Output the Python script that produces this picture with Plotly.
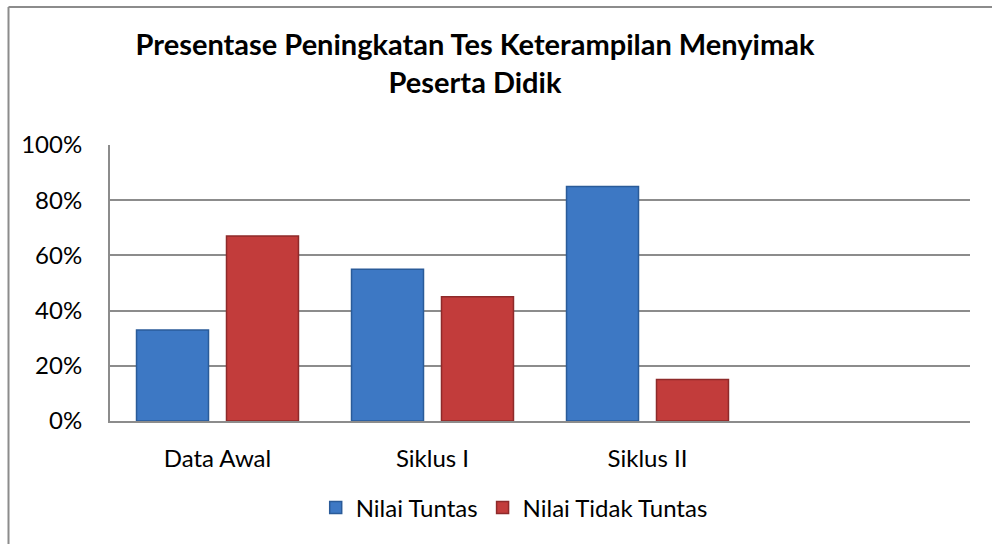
import plotly.graph_objects as go

categories = ["Data Awal", "Siklus I", "Siklus II", ""]
tuntas = [0.33, 0.55, 0.85, None]
tidak_tuntas = [0.67, 0.45, 0.15, None]
y_ticks = [0, 0.2, 0.4, 0.6, 0.8, 1.0]
y_labels = ["0%", "20%", "40%", "60%", "80%", "100%"]

FONT = "Lato"
x_idx = list(range(len(categories)))

fig = go.Figure()
fig.add_trace(go.Bar(
    x=x_idx, y=tuntas, name="Nilai Tuntas",
    marker=dict(color="#3D78C4", line=dict(color="#2A5B99", width=1.5)),
))
fig.add_trace(go.Bar(
    x=x_idx, y=tidak_tuntas, name="Nilai Tidak Tuntas",
    marker=dict(color="#C23C3B", line=dict(color="#8E2A2A", width=1.5)),
))

fig.update_layout(
    width=992, height=544,
    margin=dict(l=110, r=22, t=145, b=123),
    paper_bgcolor="white", plot_bgcolor="white",
    barmode="group", bargap=0.163, bargroupgap=0.2,
    font=dict(family=FONT, size=24, color="#000000"),
    title=dict(
        text="<b>Presentase Peningkatan Tes Keterampilan Menyimak<br>Peserta Didik</b>",
        x=475 / 992, xanchor="center", xref="container",
        y=1 - 55 / 544, yanchor="top", yref="container",
        font=dict(family=FONT, size=29, color="#000000"),
    ),
    legend=dict(
        orientation="h", x=0.47, xanchor="center", y=-0.315, yanchor="middle",
        font=dict(family=FONT, size=24), itemwidth=30, traceorder="normal",
    ),
    showlegend=True,
)
fig.update_xaxes(
    range=[-0.5, 3.5], tickvals=x_idx, ticktext=categories,
    showline=True, linecolor="#8C8C8C", linewidth=2,
    showgrid=False, ticks="", ticklabelstandoff=15, zeroline=False,
)
fig.update_yaxes(
    range=[0, 1.0], tickvals=y_ticks, ticktext=y_labels,
    showline=True, linecolor="#8C8C8C", linewidth=2,
    showgrid=True, gridcolor="#8C8C8C", gridwidth=2,
    ticks="", ticklabelstandoff=21, zeroline=False,
)
# outer chart border (top and left visible)
fig.add_shape(type="line", xref="paper", yref="paper",
              x0=(8.5 - 110) / 860, x1=(995 - 110) / 860,
              y0=(421 - 7) / 276, y1=(421 - 7) / 276,
              line=dict(color="#8C8C8C", width=2))
fig.add_shape(type="line", xref="paper", yref="paper",
              x0=(8.5 - 110) / 860, x1=(8.5 - 110) / 860,
              y0=(421 - 7) / 276, y1=(421 - 550) / 276,
              line=dict(color="#8C8C8C", width=2))

fig.write_html("out.html", config={"displayModeBar": False},
               post_script="document.body.style.margin='0';")
